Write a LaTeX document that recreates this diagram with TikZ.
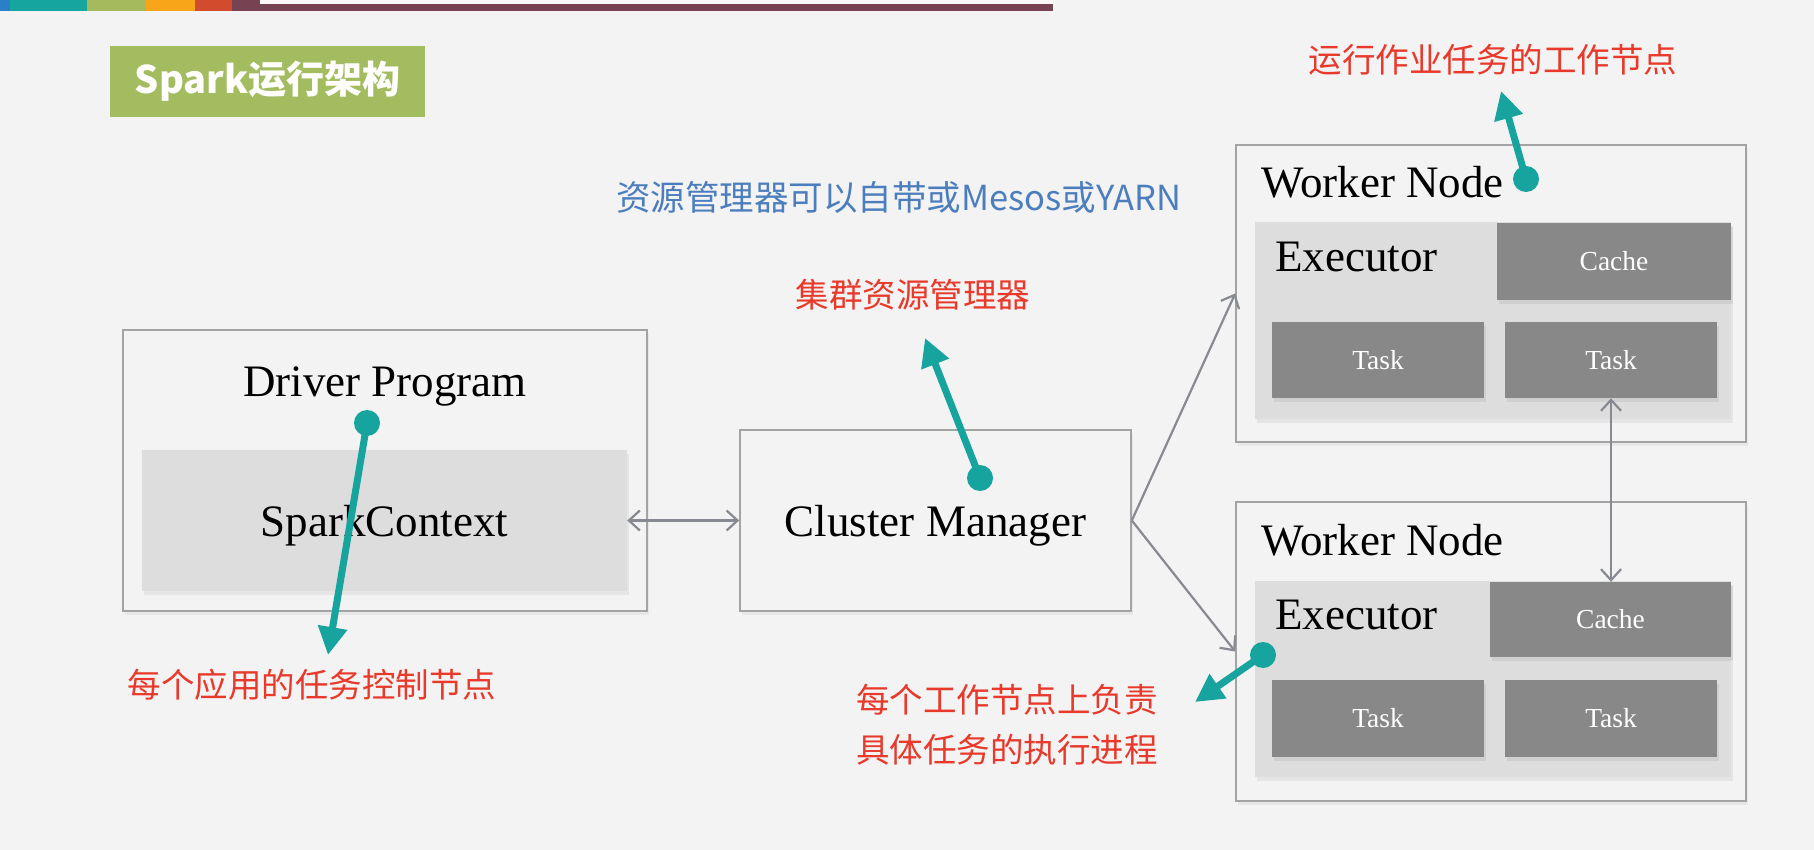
\documentclass[tikz,border=0pt]{standalone}
\usepackage{fontspec}
\setmainfont{Liberation Serif}
\newfontfamily\cjk{Noto Sans CJK SC}
\usepackage{tikz}
\usetikzlibrary{positioning,arrows.meta,shadows}

\definecolor{bgcol}{HTML}{F3F3F3}
\definecolor{boxline}{HTML}{A3A3A3}
\definecolor{exfill}{HTML}{DDDDDD}
\definecolor{taskfill}{HTML}{888888}
\definecolor{linkcol}{HTML}{878A90}
\definecolor{tealcol}{HTML}{17A39E}
\definecolor{notered}{HTML}{E8392B}
\definecolor{noteblue}{HTML}{4C7EBD}
\definecolor{titlegreen}{HTML}{A4BC60}
\definecolor{stripblue}{HTML}{2A7FC8}
\definecolor{stripteal}{HTML}{17A5A0}
\definecolor{stripgreen}{HTML}{A4BA5C}
\definecolor{striporange}{HTML}{F9A51A}
\definecolor{stripred}{HTML}{D24B2D}
\definecolor{stripmaroon}{HTML}{774353}

\begin{document}
\begin{tikzpicture}[
    x=1pt, y=-1pt,
    frame/.style={draw=boxline, line width=1.6pt, fill=bgcol, inner sep=0,
        drop shadow={opacity=0.10, shadow xshift=2pt, shadow yshift=-4pt}},
    exbox/.style={fill=exfill, inner sep=0,
        drop shadow={opacity=0.12, shadow xshift=2pt, shadow yshift=-4pt}},
    taskbox/.style={fill=taskfill, text=white, inner sep=0,
        font=\fontsize{27.5}{30}\selectfont,
        drop shadow={opacity=0.15, shadow xshift=2pt, shadow yshift=-4pt}},
    big/.style={inner sep=0, text depth=0pt, font=\fontsize{45}{50}\selectfont},
    note/.style={inner sep=0, text=notered, align=center,
        font=\cjk\fontsize{33.5}{50}\selectfont},
    link/.style={draw=linkcol, line width=2.2pt},
    barb/.tip={Straight Barb[length=11pt, width=20pt]},
    pin/.style={draw=tealcol, line width=7pt, -{Triangle[width=28pt, length=28pt]}},
    pindot/.style={circle, fill=tealcol, minimum size=26pt, inner sep=0}
]
% page
\fill[bgcol] (0,0) rectangle (1814,850);
\useasboundingbox (0,0) rectangle (1814,850);

% top strip
\fill[stripblue] (0,0) rectangle (10,11);
\fill[stripteal] (10,0) rectangle (87,11);
\fill[stripgreen] (87,0) rectangle (146,11);
\fill[striporange] (146,0) rectangle (195,11);
\fill[stripred] (195,0) rectangle (232,11);
\fill[stripmaroon] (232,0) rectangle (260,11);
\fill[white!96!stripmaroon] (260,0) rectangle (1053,4);
\fill[stripmaroon] (260,4) rectangle (1053,11);

% title
\node[fill=titlegreen, text=white, inner sep=0, minimum width=315pt, minimum height=71pt,
      font=\cjk\bfseries\fontsize{38}{40}\selectfont] (title) at (267.5,81.5) {Spark运行架构};

% driver
\node[frame, minimum width=524pt, minimum height=281pt] (driver) at (385,470.5) {};
\node[big] (drivertext) at (385,382) {Driver Program};
\node[exbox, big, minimum width=485pt, minimum height=141pt] (sc) at (384.5,520.5) {SparkContext};

% cluster manager
\node[frame, big, minimum width=391pt, minimum height=181pt] (cm) at (935.5,520.5) {Cluster Manager};

% worker 1
\node[frame, minimum width=510pt, minimum height=297pt] (w1) at (1491,293.5) {};
\node[big, anchor=west] (w1text) at (1261,182) {Worker Node};
\node[exbox, minimum width=476pt, minimum height=197pt] (ex1) at (1493,320.5) {};
\node[big, anchor=west] (ex1text) at (1275,257) {Executor};
\node[taskbox, minimum width=234pt, minimum height=77pt] (cache1) at (1614,261.5) {Cache};
\node[taskbox, minimum width=212pt, minimum height=76pt] (t1a) at (1378,360) {Task};
\node[taskbox, minimum width=212pt, minimum height=76pt] (t1b) at (1611,360) {Task};

% worker 2
\node[frame, minimum width=510pt, minimum height=299pt] (w2) at (1491,651.5) {};
\node[big, anchor=west] (w2text) at (1261,540) {Worker Node};
\node[exbox, minimum width=476pt, minimum height=196pt] (ex2) at (1493,679) {};
\node[big, anchor=west] (ex2text) at (1275,615) {Executor};
\node[taskbox, minimum width=241pt, minimum height=75pt] (cache2) at (1610.5,619.5) {Cache};
\node[taskbox, minimum width=212pt, minimum height=77pt] (t2a) at (1378,718.5) {Task};
\node[taskbox, minimum width=212pt, minimum height=77pt] (t2b) at (1611,718.5) {Task};

% links
\draw[link, barb-barb] (sc.east) -- (cm.west);
\draw[link, -barb] (cm.east) -- (w1.west);
\draw[link, -barb] (cm.east) -- (w2.west);
\draw[link, barb-barb] (t1b.south) -- (t1b.south |- cache2.north);

% notes
\node[note] (worknote) at (1493,60) {运行作业任务的工作节点};
\node[note, text=noteblue, font=\cjk\fontsize{34.5}{50}\selectfont] (rmnote) at (899,197) {资源管理器可以自带或Mesos或YARN};
\node[note] (cmnote) at (913,295) {集群资源管理器};
\node[note] (drvnote) at (312,685) {每个应用的任务控制节点};
\node[note] (exnote) at (1007,725) {每个工作节点上负责\\具体任务的执行进程};

% pins
\node[pindot] (pinwork) at (1526,179) {};
\coordinate (tipwork) at (1501,91);
\draw[pin] (pinwork.center) -- (tipwork);

\node[pindot] (pincm) at (980,478) {};
\coordinate (tipcm) at (925,338);
\draw[pin] (pincm.center) -- (tipcm);

\node[pindot] (pindrv) at (367,423) {};
\coordinate (tipdrv) at (328,655);
\draw[pin] (pindrv.center) -- (tipdrv);

\node[pindot] (pinex) at (1263,655) {};
\coordinate (tipex) at (1195,702);
\draw[pin] (pinex.center) -- (tipex);
\end{tikzpicture}
\end{document}
